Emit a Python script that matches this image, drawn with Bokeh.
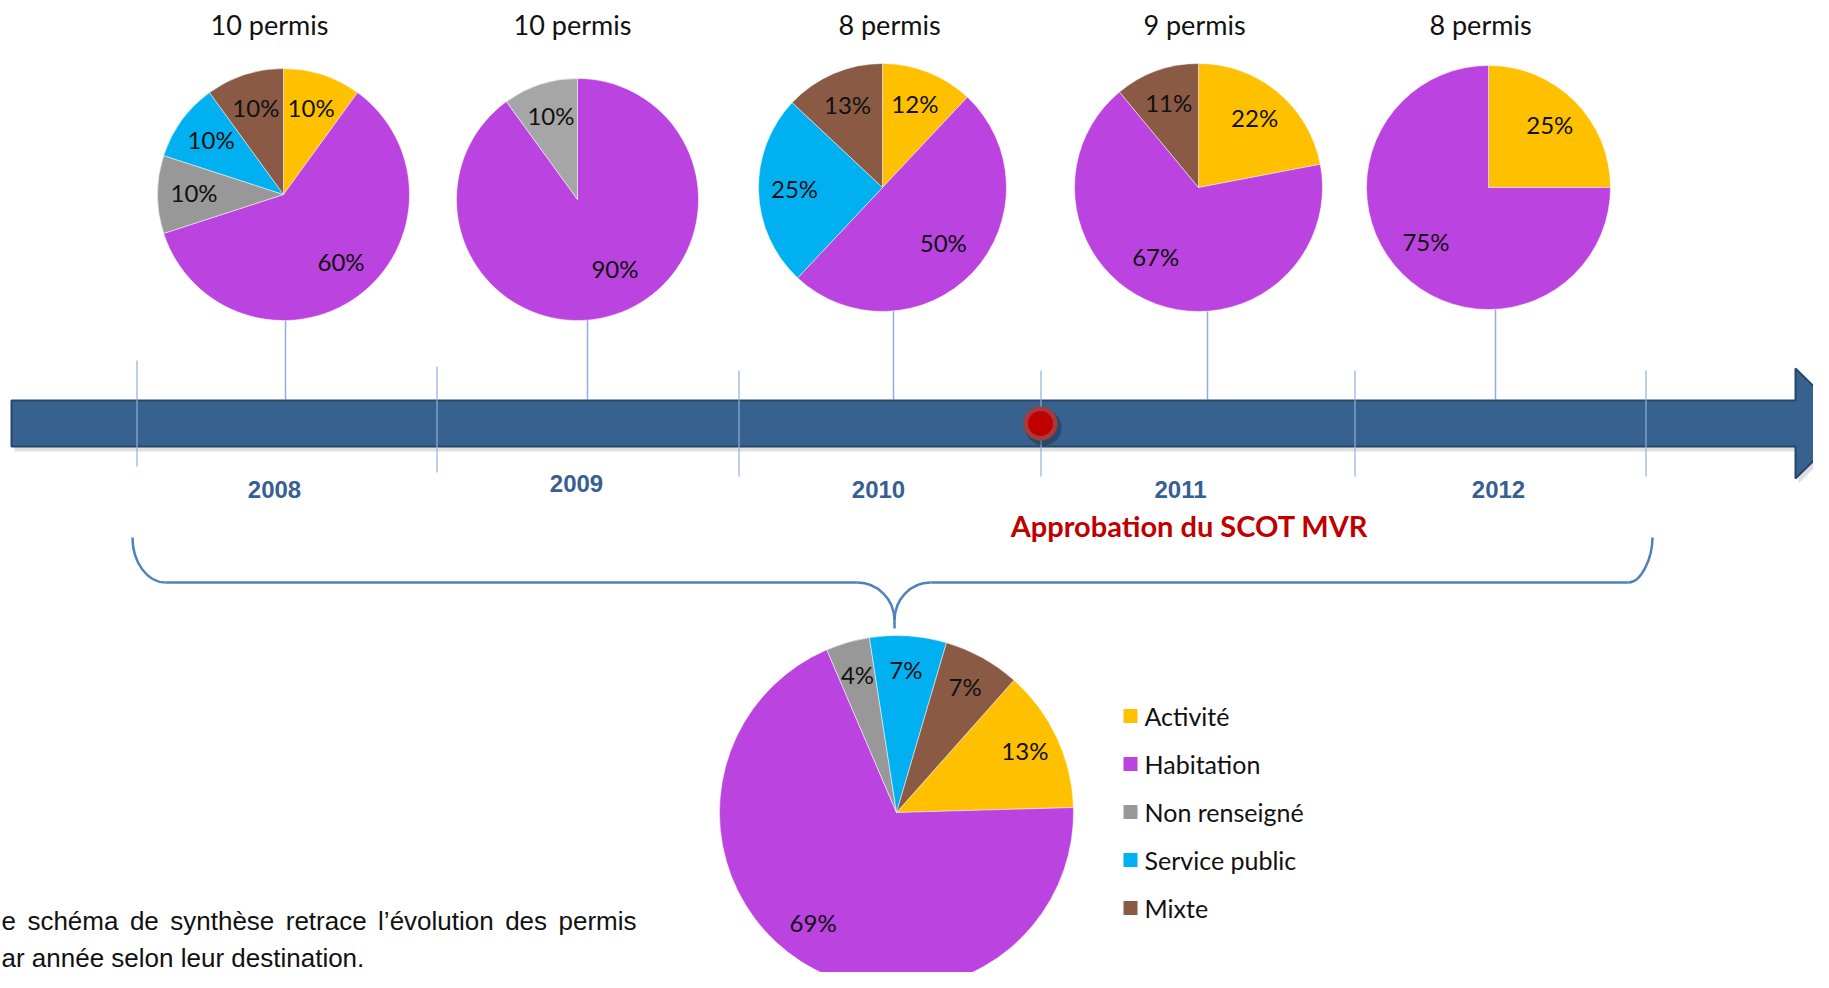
import math
from bokeh.plotting import figure
from bokeh.models import Range1d, ColumnDataSource
from bokeh.embed import file_html
from bokeh.resources import INLINE
from bokeh.core.properties import value

# ---------------- data ----------------
categories = ["Activité", "Habitation", "Non renseigné", "Service public", "Mixte"]
years = ["2008", "2009", "2010", "2011", "2012"]
permis = [10, 10, 8, 9, 8]
# percentages per year, in category order
pct_2008 = [10, 60, 10, 10, 10]
pct_2009 = [0, 90, 10, 0, 0]
pct_2010 = [12, 50, 0, 25, 13]
pct_2011 = [22, 67, 0, 0, 11]
pct_2012 = [25, 75, 0, 0, 0]
pct_total = [13, 69, 4, 7, 7]
event_label = "Approbation du SCOT MVR"
note_line1 = ["e", "schéma", "de", "synthèse", "retrace", "l\u2019évolution", "des", "permis"]
note_line2 = "ar année selon leur destination."

# ---------------- style / layout ----------------
colors = ["#FFC000", "#BB43DF", "#989898", "#00B0F0", "#8A5A44"]
H = 988
def Y(v):
    return H - v

FONT = value("Lato")
p = figure(width=1813, height=972, x_range=Range1d(0, 1813), y_range=Range1d(16, 988),
           output_backend="svg", toolbar_location=None, min_border=0,
           x_axis_location=None, y_axis_location=None)
p.grid.visible = False
p.outline_line_color = None
p.background_fill_color = "white"
p.border_fill_color = "white"

year_pcts = [pct_2008, pct_2009, pct_2010, pct_2011, pct_2012]
pie_cx = [283, 577, 882, 1198, 1488]
pie_cy = [194, 199, 187, 187, 187]
pie_r = [126, 121, 124, 124, 122]
# label placement of the large "Habitation" slice (angle clockwise from top, radius fraction)
hab_label = [(140, 0.71), (152, 0.66), (133, 0.67), (211, 0.67), (228, 0.69)]
title_x = [269, 572, 889, 1194, 1480]
conn_x = [285, 587, 893, 1207, 1495]
year_x = [274, 576, 878, 1180, 1498]
year_y = [489, 483, 489, 489, 489]
tick_x = [136.5, 436.5, 738.5, 1040.5, 1354.5, 1645.5]
tick_y0 = [360, 366, 370, 370, 370, 370]
tick_y1 = [466, 472, 476, 476, 476, 476]


def pie(cx, cy, r, pcts, start, frac, cols, hab=None):
    d = dict(x=[], y=[], sa=[], ea=[], c=[])
    lab = dict(x=[], y=[], t=[])
    cum = start
    for k, (v, c) in enumerate(zip(pcts, cols)):
        if v <= 0:
            continue
        a1 = cum
        a2 = cum + v * 3.6
        cum = a2
        d["x"].append(cx); d["y"].append(Y(cy))
        d["sa"].append(math.radians(90 - a2)); d["ea"].append(math.radians(90 - a1))
        d["c"].append(c)
        m = math.radians((a1 + a2) / 2)
        f = frac
        if k == 1 and hab is not None:
            m = math.radians(hab[0]); f = hab[1]
        lab["x"].append(cx + f * r * math.sin(m))
        lab["y"].append(Y(cy - f * r * math.cos(m) - 2))
        lab["t"].append(f"{v}%")
    src = ColumnDataSource(d)
    p.wedge(x="x", y="y", radius=r, start_angle="sa", end_angle="ea", fill_color="c",
            line_color="white", line_width=0.5, source=src)
    p.text(x="x", y="y", text="t", source=ColumnDataSource(lab), text_align="center",
           text_baseline="middle", text_font=FONT, text_font_size="24px", text_color="#111111")

# connectors from pies to the band
p.segment(x0=conn_x, y0=[Y(cy + r - 2) for cy, r in zip(pie_cy, pie_r)],
          x1=conn_x, y1=[Y(399)] * 5, line_color="#8FB0DA", line_width=1.5)

# year pies
for i in range(5):
    cols = list(colors)
    if i == 1:
        cols[2] = "#A6A6A6"
    pie(pie_cx[i], pie_cy[i], pie_r[i], year_pcts[i], 0, 0.71, cols, hab_label[i])

p.text(x=title_x, y=[Y(23.5)] * 5, text=[f"{n} permis" for n in permis], text_align="center",
       text_baseline="middle", text_font=FONT, text_font_size="27px", text_color="#111111")

# arrow band
ax = [11, 1795, 1795, 1851, 1795, 1795, 11]
ay = [400, 400, 368, 423, 478, 446, 446]
p.patch([v + 3 for v in ax], [Y(v + 5) for v in ay], fill_color="black", fill_alpha=0.12, line_color=None)
p.patch(ax, [Y(v) for v in ay], fill_color="#37618F", line_color="#27466C", line_width=2)

# tick lines
p.segment(x0=tick_x, y0=[Y(v) for v in tick_y0], x1=tick_x, y1=[Y(v) for v in tick_y1],
          line_color="#8FB0DA", line_width=1.2)

# event marker
p.circle(x=[1043], y=[Y(427)], radius=18, fill_color="black", fill_alpha=0.25, line_color=None)
p.circle(x=[1040], y=[Y(423)], radius=17, fill_color="#A83A3A", line_color=None)
p.circle(x=[1040], y=[Y(423)], radius=12.5, fill_color="#C00000", line_color=None)

# year labels
p.text(x=year_x, y=[Y(v) for v in year_y], text=years, text_align="center", text_baseline="middle",
       text_font=value("Liberation Sans"), text_font_style="bold", text_font_size="24px",
       text_color="#376092")

p.text(x=[1189], y=[Y(525)], text=[event_label], text_align="center", text_baseline="middle",
       text_font=FONT, text_font_style="bold", text_font_size="29px", text_color="#C00000")

# brace
bc = "#4F81BD"
bw = 2.5
p.bezier(x0=[132, 857, 930, 1628], y0=[Y(537), Y(582), Y(582), Y(582)],
         x1=[165, 894, 894, 1652], y1=[Y(582), Y(620), Y(620), Y(537)],
         cx0=[132, 877, 910, 1641], cy0=[Y(562), Y(582), Y(582), Y(582)],
         cx1=[147, 894, 894, 1652], cy1=[Y(582), Y(599), Y(599), Y(557)],
         line_color=bc, line_width=bw)
p.segment(x0=[165, 930, 894], y0=[Y(582), Y(582), Y(620)], x1=[857, 1628, 894], y1=[Y(582), Y(582), Y(628)],
          line_color=bc, line_width=bw)

# total pie
pie(896, 812, 177, pct_total, 41.6, 0.80, colors, (216.6, 0.79))

# legend
leg_y = [715.5, 763.5, 811.5, 859.5, 907.5]
p.rect(x=[1130] * 5, y=[Y(v) for v in leg_y], width=14, height=14, fill_color=colors, line_color=None)
p.text(x=[1144] * 5, y=[Y(v) for v in leg_y], text=categories, text_align="left", text_baseline="middle",
       text_font=FONT, text_font_size="25px", text_color="#111111")

# note text (first line justified word by word, Arial advance widths)
NOTE_FS = 26
AW = {" ": 278, "a": 556, "b": 556, "c": 500, "d": 556, "e": 556, "é": 556, "è": 556, "h": 556,
      "i": 222, "l": 222, "m": 833, "n": 556, "o": 556, "p": 556, "r": 333, "s": 500, "t": 278,
      "u": 556, "v": 500, "y": 500, "\u2019": 222, ".": 278}
def tw(s):
    return sum(AW.get(ch, 556) for ch in s) * NOTE_FS / 1000.0
left, right = 1.0, 636.0
widths = [tw(w) for w in note_line1]
gap = (right - left - sum(widths)) / (len(note_line1) - 1)
wx = []
cur = left
for w in widths:
    wx.append(cur)
    cur += w + gap
p.text(x=wx, y=[Y(920)] * len(wx), text=note_line1, text_align="left", text_baseline="middle",
       text_font=value("Liberation Sans"), text_font_size=f"{NOTE_FS}px", text_color="#111111")
p.text(x=[1], y=[Y(957)], text=[note_line2], text_align="left", text_baseline="middle",
       text_font=value("Liberation Sans"), text_font_size=f"{NOTE_FS}px", text_color="#111111")

open("out.html", "w").write(file_html(p, INLINE))
